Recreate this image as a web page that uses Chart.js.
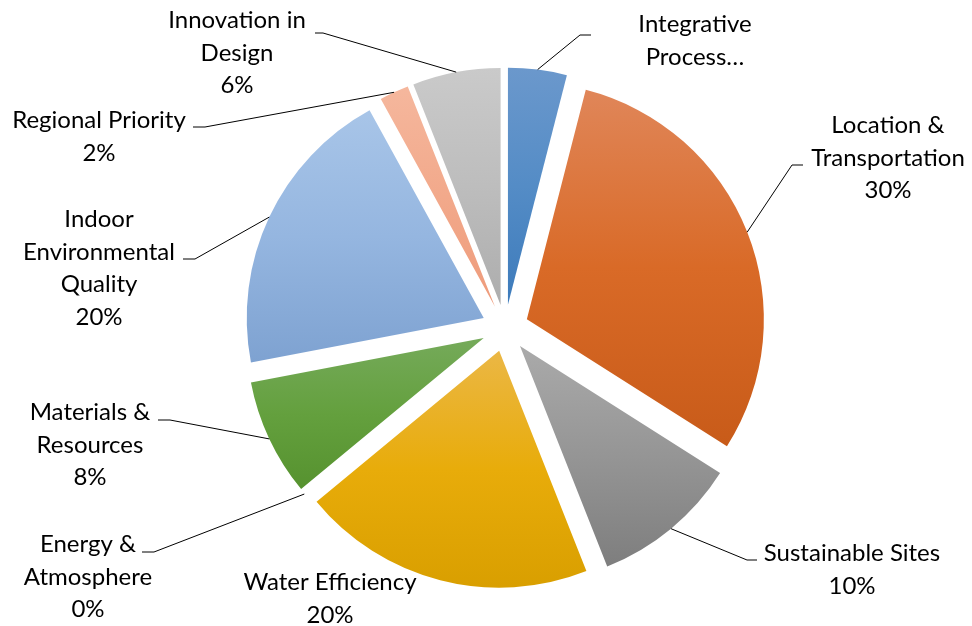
<!DOCTYPE html>
<html>
<head>
<meta charset="utf-8">
<title>Credit categories</title>
<script src="https://cdn.jsdelivr.net/npm/chart.js@4.4.1/dist/chart.umd.min.js"></script>
<style>
  html, body { margin: 0; padding: 0; background: #fff; }
  canvas { display: block; }
</style>
</head>
<body>
<canvas id="pie" width="972" height="626"></canvas>
<script>
const categories = ['Integrative Process', 'Location & Transportation', 'Sustainable Sites', 'Water Efficiency',
  'Energy & Atmosphere', 'Materials & Resources', 'Indoor Environmental Quality', 'Regional Priority', 'Innovation in Design'];
const shares = [4, 30, 10, 20, 0, 8, 20, 2, 6];

// how the category names wrap next to the pie
const labelLines = [
  ['Integrative', 'Process…'],
  ['Location &', 'Transportation'],
  ['Sustainable Sites'],
  ['Water Efficiency'],
  ['Energy &', 'Atmosphere'],
  ['Materials &', 'Resources'],
  ['Indoor', 'Environmental', 'Quality'],
  ['Regional Priority'],
  ['Innovation in', 'Design']
];
const showPercent = [false, true, true, true, true, true, true, true, true];

// top / middle / bottom of each slice's gradient
const sliceColors = [
  ['#6b98cc', '#548cc6', '#3d7bbb'],
  ['#e08659', '#d96a27', '#c85b19'],
  ['#aaaaaa', '#959595', '#7e7e7e'],
  ['#ebb745', '#e8ac0a', '#d99f00'],
  ['#5b84cc', '#4472c4', '#365fa8'],
  ['#75aa5a', '#64a03e', '#56922f'],
  ['#a8c5e8', '#95b6e0', '#7ea2d1'],
  ['#f5b79d', '#f2a98b', '#ee9b7b'],
  ['#cacaca', '#bdbdbd', '#adadad']
];

const RADIUS = 237;
const EXPLODE = 23.5;
const FONT = '24px Lato, "Open Sans", sans-serif';
const LINE_H = 32.5;

// label block: centre x, first baseline y, leader elbow [near x, far x, y]
const labelPos = [
  { x: 695, y: 32, seg: [591, 580, 35] },
  { x: 888, y: 133, seg: [803, 792, 165] },
  { x: 852, y: 561, seg: [757, 747, 560] },
  { x: 330, y: 590, seg: null },
  { x: 88, y: 552, seg: [142, 154, 552] },
  { x: 90, y: 420, seg: [158, 170, 420] },
  { x: 99, y: 227, seg: [183, 195, 259] },
  { x: 99, y: 128, seg: [193, 205, 127] },
  { x: 237, y: 28, seg: [315, 323, 33] }
];

const total = shares.reduce((a, b) => a + b, 0);

// vertical gradient spanning the slice's own bounding box
function sliceFill(context) {
  const i = context.dataIndex;
  const stops = sliceColors[i];
  const area = context.chart.chartArea;
  if (!area) return stops[1];
  const cy = (area.top + area.bottom) / 2;
  const before = shares.slice(0, i).reduce((a, b) => a + b, 0);
  const a0 = -Math.PI / 2 + before / total * 2 * Math.PI;
  const a1 = a0 + shares[i] / total * 2 * Math.PI;
  const ys = [cy, cy + RADIUS * Math.sin(a0), cy + RADIUS * Math.sin(a1)];
  if (a0 <= Math.PI / 2 && a1 >= Math.PI / 2) ys.push(cy + RADIUS);
  if (a1 >= 3 * Math.PI / 2) ys.push(cy - RADIUS);
  const top = Math.min(...ys), bottom = Math.max(...ys);
  if (bottom - top < 1) return stops[1];
  const g = context.chart.ctx.createLinearGradient(0, top, 0, bottom);
  g.addColorStop(0, stops[0]);
  g.addColorStop(0.5, stops[1]);
  g.addColorStop(1, stops[2]);
  return g;
}

// pull every slice out along its middle angle
const explodeSlices = {
  id: 'explodeSlices',
  beforeDatasetDraw(chart, args) {
    const ctx = chart.ctx;
    args.meta.data.forEach(arc => {
      const mid = (arc.startAngle + arc.endAngle) / 2;
      ctx.save();
      ctx.translate(Math.cos(mid) * EXPLODE, Math.sin(mid) * EXPLODE);
      arc.draw(ctx);
      ctx.restore();
    });
    return false;
  }
};

// category labels with leader lines
const sliceLabels = {
  id: 'sliceLabels',
  afterDraw(chart) {
    const ctx = chart.ctx;
    const arcs = chart.getDatasetMeta(0).data;
    ctx.save();
    ctx.font = FONT;
    ctx.fillStyle = '#000';
    ctx.textAlign = 'center';
    ctx.textBaseline = 'alphabetic';
    ctx.strokeStyle = '#000';
    ctx.lineWidth = 1;
    arcs.forEach((arc, i) => {
      const pos = labelPos[i];
      const lines = labelLines[i].slice();
      if (showPercent[i]) lines.push(Math.round(shares[i] / total * 100) + '%');
      lines.forEach((t, k) => ctx.fillText(t, pos.x, pos.y + k * LINE_H));
      if (!pos.seg) return;
      const mid = (arc.startAngle + arc.endAngle) / 2;
      const r = arc.outerRadius + EXPLODE;
      const ax = arc.x + Math.cos(mid) * r;
      const ay = arc.y + Math.sin(mid) * r;
      ctx.beginPath();
      ctx.moveTo(pos.seg[0], pos.seg[2]);
      ctx.lineTo(pos.seg[1], pos.seg[2]);
      ctx.lineTo(ax, ay);
      ctx.stroke();
    });
    ctx.restore();
  }
};

new Chart(document.getElementById('pie'), {
  type: 'pie',
  data: {
    labels: categories,
    datasets: [{
      data: shares,
      backgroundColor: sliceFill,
      borderWidth: 0,
      radius: RADIUS
    }]
  },
  options: {
    responsive: false,
    animation: false,
    events: [],
    layout: { padding: { left: 38, top: 30, right: 0, bottom: 0 } },
    plugins: {
      legend: { display: false },
      tooltip: { enabled: false }
    }
  },
  plugins: [explodeSlices, sliceLabels]
});
</script>
</body>
</html>
